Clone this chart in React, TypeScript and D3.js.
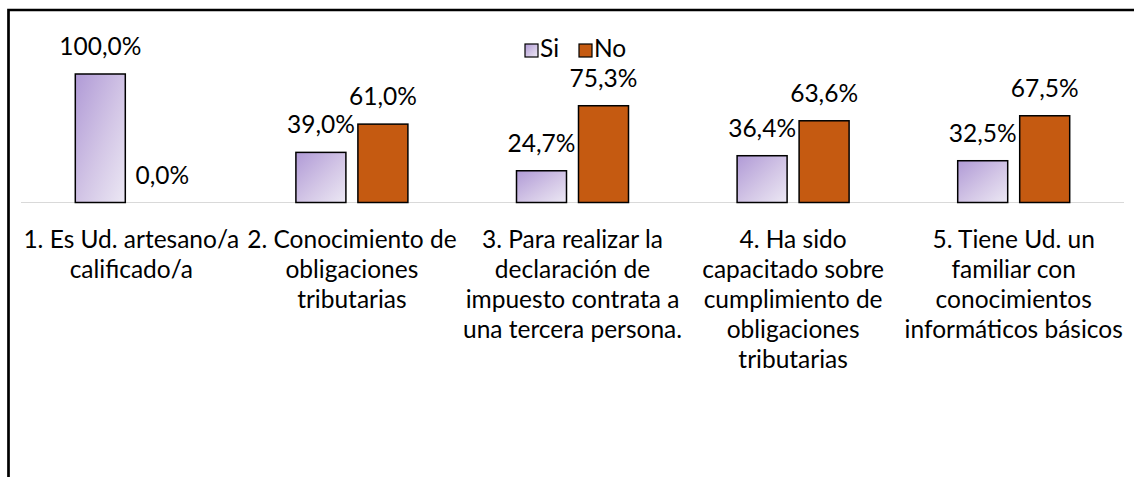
import { useEffect, useRef } from "react";
import * as d3 from "d3";

const categories: string[][] = [
  ["1. Es Ud. artesano/a", "calificado/a"],
  ["2. Conocimiento de", "obligaciones", "tributarias"],
  ["3. Para realizar la", "declaración de", "impuesto contrata a", "una tercera persona."],
  ["4. Ha sido", "capacitado sobre", "cumplimiento de", "obligaciones", "tributarias"],
  ["5. Tiene Ud. un", "familiar con", "conocimientos", "informáticos básicos"],
];
const seriesNames = ["Si", "No"];
const siValues = [100.0, 39.0, 24.7, 36.4, 32.5];
const noValues = [0.0, 61.0, 75.3, 63.6, 67.5];

const W = 1134;
const H = 477;
const FONT = "Lato, 'Open Sans', sans-serif";
const FS = 24.5;

export default function App() {
  const svgRef = useRef<SVGSVGElement | null>(null);

  useEffect(() => {
    const svg = d3.select(svgRef.current).attr("width", W).attr("height", H);
    svg.selectAll("*").remove();

    const defs = svg.append("defs");
    const grad = defs
      .append("linearGradient")
      .attr("id", "siGrad")
      .attr("x1", "0%")
      .attr("y1", "0%")
      .attr("x2", "100%")
      .attr("y2", "100%");
    grad.append("stop").attr("offset", "0%").attr("stop-color", "#B09AD6");
    grad.append("stop").attr("offset", "55%").attr("stop-color", "#D3C6E6");
    grad.append("stop").attr("offset", "100%").attr("stop-color", "#ECE8F4");

    const colors: { [key: string]: string } = { Si: "url(#siGrad)", No: "#C55A11" };

    // marco exterior (cortado a la derecha y abajo)
    svg
      .append("path")
      .attr("d", `M8.5,${H + 5} L8.5,10 L${W + 5},10`)
      .attr("fill", "none")
      .attr("stroke", "#000")
      .attr("stroke-width", 2.7);

    const x0 = d3
      .scaleBand<number>()
      .domain(d3.range(categories.length))
      .range([21, 1124]);
    const x1 = d3
      .scaleBand<string>()
      .domain(seriesNames)
      .range([-56, 56])
      .paddingInner(12 / 62);
    const y = d3.scaleLinear().domain([0, 100]).range([202.5, 74]);

    svg
      .append("line")
      .attr("x1", 21)
      .attr("x2", 1124)
      .attr("y1", y(0))
      .attr("y2", y(0))
      .attr("stroke", "#D9D9D9")
      .attr("stroke-width", 1.2);

    const data = categories.map((_, i) => ({
      i,
      vals: [
        { key: "Si", v: siValues[i] },
        { key: "No", v: noValues[i] },
      ],
    }));

    const groups = svg
      .selectAll("g.cat")
      .data(data)
      .enter()
      .append("g")
      .attr("class", "cat")
      .attr("transform", (d) => `translate(${x0(d.i)! + x0.bandwidth() / 2},0)`);

    groups
      .selectAll("rect")
      .data((d) => d.vals.filter((v) => v.v > 0))
      .enter()
      .append("rect")
      .attr("x", (d) => x1(d.key)!)
      .attr("width", x1.bandwidth())
      .attr("y", (d) => y(d.v))
      .attr("height", (d) => y(0) - y(d.v))
      .attr("fill", (d) => colors[d.key])
      .attr("stroke", "#000")
      .attr("stroke-width", 1.5);

    groups
      .selectAll("text.val")
      .data((d) => d.vals)
      .enter()
      .append("text")
      .attr("class", "val")
      .attr("x", (d) => x1(d.key)! + x1.bandwidth() / 2)
      .attr("y", (d) => y(d.v) - 19)
      .attr("text-anchor", "middle")
      .attr("font-family", FONT)
      .attr("font-size", FS)
      .attr("fill", "#000")
      .text((d) => d.v.toFixed(1).replace(".", ",") + "%");

    groups.each(function (d) {
      const t = d3
        .select(this)
        .append("text")
        .attr("text-anchor", "middle")
        .attr("font-family", FONT)
        .attr("font-size", FS)
        .attr("fill", "#000");
      categories[d.i].forEach((line, k) => {
        t.append("tspan").attr("x", 0).attr("y", 248 + k * 30).text(line);
      });
    });

    // leyenda
    const legend = svg.append("g").attr("transform", "translate(525,44)");
    const legendX = [0, 54];
    seriesNames.forEach((s, k) => {
      const g = legend.append("g").attr("transform", `translate(${legendX[k]},0)`);
      g.append("rect")
        .attr("width", 13)
        .attr("height", 13)
        .attr("fill", colors[s])
        .attr("stroke", "#000")
        .attr("stroke-width", 1.2);
      g.append("text")
        .attr("x", 15)
        .attr("y", 13)
        .attr("font-family", FONT)
        .attr("font-size", FS)
        .text(s);
    });
  }, []);

  return (
    <svg
      ref={svgRef}
      style={{ position: "absolute", left: 0, top: 0, background: "#fff" }}
    />
  );
}
